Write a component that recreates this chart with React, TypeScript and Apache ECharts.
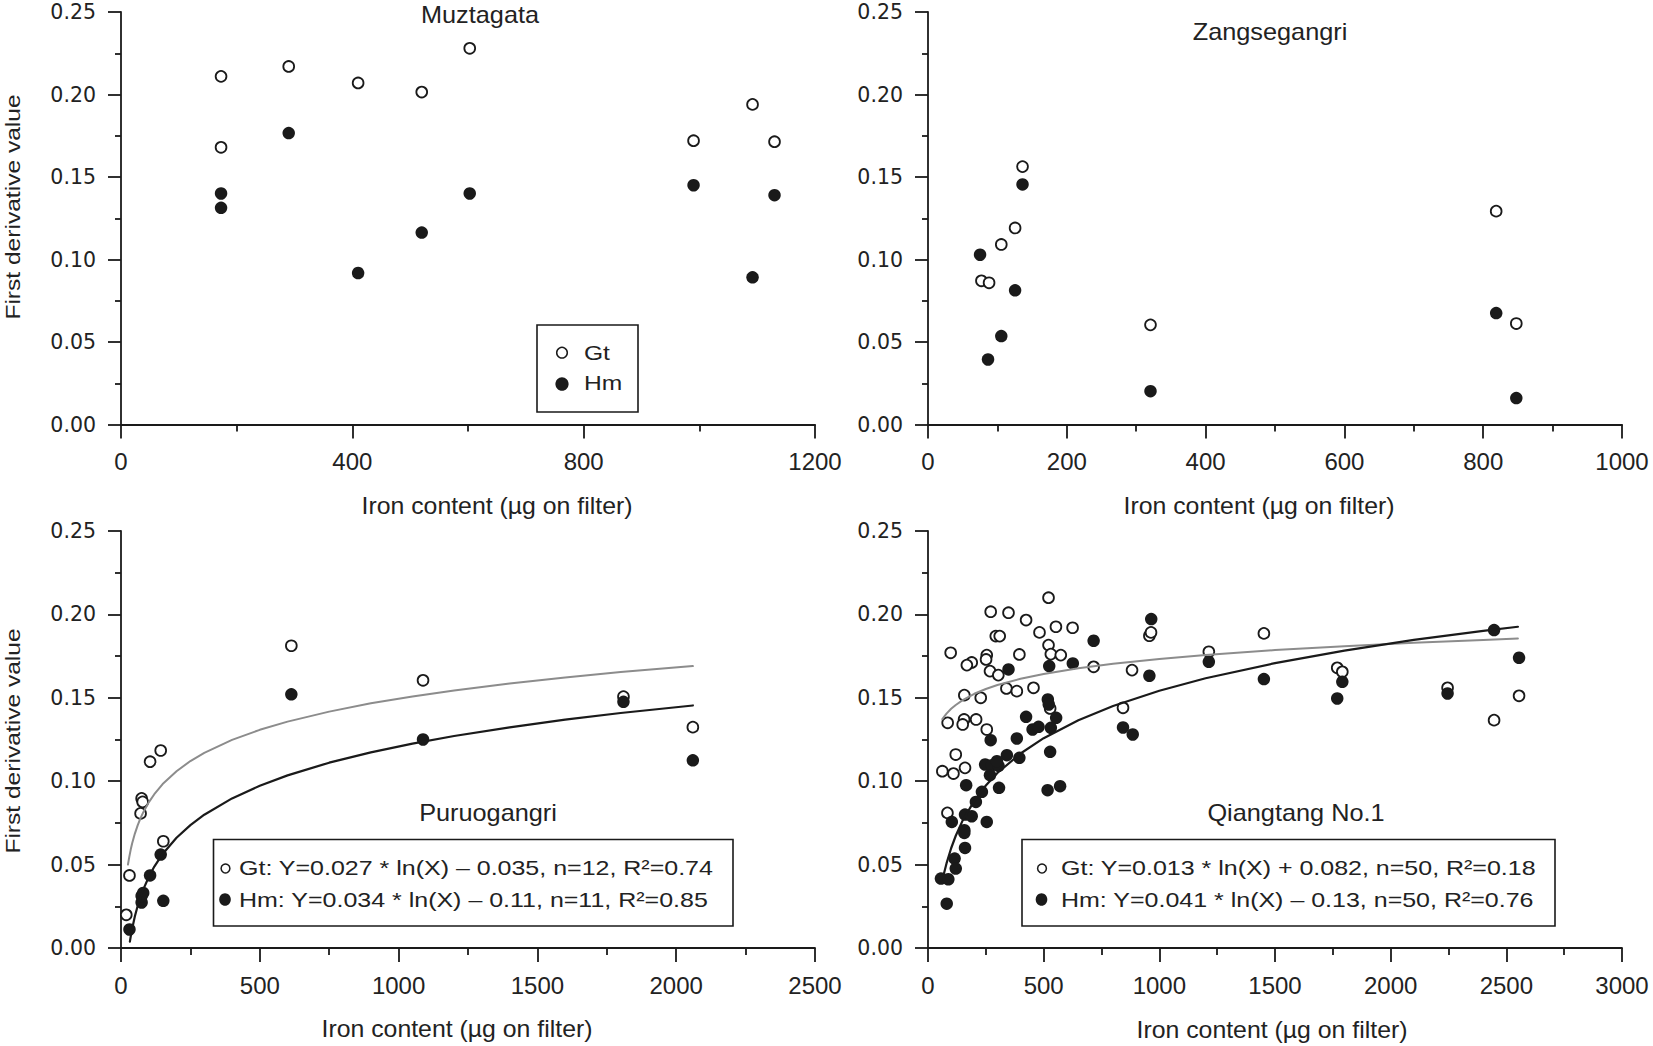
import React, { useEffect, useRef } from "react";
import * as echarts from "echarts";

const FONT = '"Liberation Sans", Arial, Helvetica, sans-serif';
const WIDE = '"DejaVu Sans", Verdana, sans-serif';
const INK = "#1a1a1a";
const GREY = "#8c8c8c";

// ---- Muztagata ----
const muzGtX = [173, 173, 290, 410, 520, 603, 990, 1092, 1130];
const muzGtY = [0.211, 0.168, 0.217, 0.207, 0.2015, 0.228, 0.172, 0.194, 0.1714];
const muzHmX = [173, 173, 290, 410, 520, 603, 990, 1092, 1130];
const muzHmY = [0.140, 0.1313, 0.1766, 0.0918, 0.1163, 0.140, 0.145, 0.0892, 0.139];

// ---- Zangsegangri ----
const zanGtX = [77, 88, 105.6, 125.5, 136.2, 320.6, 818.7, 847.7];
const zanGtY = [0.0871, 0.0859, 0.1091, 0.1191, 0.1563, 0.0604, 0.1293, 0.0612];
const zanHmX = [75, 86.5, 105.6, 125.5, 136.2, 320.6, 818.7, 847.7];
const zanHmY = [0.1029, 0.0394, 0.0536, 0.0813, 0.1455, 0.0202, 0.0675, 0.016];

// ---- Puruogangri ----
const puGtX = [19, 30.5, 70.5, 74.3, 78, 104.8, 143, 152.4, 613.6, 1088, 1810, 2060];
const puGtY = [0.0199, 0.0435, 0.0807, 0.0897, 0.0876, 0.1117, 0.1184, 0.064, 0.1812, 0.1605, 0.1507, 0.1324];
const puHmX = [30.5, 74.3, 74.3, 80, 104.8, 143, 152.4, 613.6, 1088, 1810, 2060];
const puHmY = [0.0111, 0.0273, 0.0312, 0.033, 0.0435, 0.056, 0.0283, 0.1521, 0.125, 0.1476, 0.1125];
// fitted curves
const puGtFit = [[25, 0.050], [30, 0.0548], [35, 0.059], [40, 0.0626], [50, 0.0686], [60, 0.0735], [70, 0.0777], [80, 0.0813], [100, 0.0873], [120, 0.0922], [150, 0.0983], [200, 0.106], [250, 0.1121], [300, 0.117], [400, 0.1248], [500, 0.1308], [600, 0.1357], [750, 0.1417], [900, 0.1467], [1050, 0.1508], [1200, 0.1544], [1400, 0.1586], [1600, 0.1622], [1800, 0.1654], [2060, 0.169]];
const puHmFit = [[32, 0.0038], [35, 0.0069], [40, 0.0114], [50, 0.019], [60, 0.0252], [70, 0.0304], [80, 0.035], [100, 0.0426], [120, 0.0488], [150, 0.0564], [200, 0.0661], [250, 0.0737], [300, 0.0799], [400, 0.0897], [500, 0.0973], [600, 0.1035], [750, 0.1111], [900, 0.1173], [1050, 0.1225], [1200, 0.1271], [1400, 0.1323], [1600, 0.1369], [1800, 0.1409], [2060, 0.1454]];

// ---- Qiangtang No.1 ----
const qiGtX = [521, 271, 348, 424, 553, 625, 482, 293, 310, 521, 98, 531, 574, 395, 254, 251, 189, 168, 268, 304, 716, 339, 384, 456, 157, 228, 528, 85, 156, 150, 208, 254, 120, 62, 110, 160, 84, 882, 957, 964, 843, 1214, 1452, 1769, 1791, 2246, 2447, 2555];
const qiGtY = [0.210, 0.2016, 0.201, 0.1966, 0.1926, 0.192, 0.1892, 0.187, 0.187, 0.1816, 0.177, 0.1762, 0.1756, 0.176, 0.1756, 0.173, 0.1712, 0.1696, 0.166, 0.1636, 0.1686, 0.1556, 0.154, 0.156, 0.1516, 0.150, 0.1436, 0.135, 0.137, 0.134, 0.137, 0.131, 0.116, 0.106, 0.1046, 0.108, 0.081, 0.1666, 0.1872, 0.1892, 0.144, 0.1776, 0.1886, 0.168, 0.1656, 0.156, 0.1366, 0.1512];
const qiHmX = [716, 348, 524, 626, 518, 522, 424, 554, 452, 478, 531, 384, 271, 528, 341, 395, 247, 276, 305, 298, 268, 165, 307, 517, 571, 233, 207, 160, 189, 103, 254, 157, 157, 160, 115, 120, 56, 88, 81, 965, 957, 1214, 1452, 843, 885, 2447, 2555, 1791, 1769, 2246];
const qiHmY = [0.1842, 0.167, 0.169, 0.1706, 0.149, 0.146, 0.1386, 0.138, 0.131, 0.1326, 0.132, 0.1256, 0.1246, 0.1176, 0.1156, 0.114, 0.110, 0.1096, 0.1092, 0.112, 0.1036, 0.0976, 0.096, 0.0946, 0.097, 0.0936, 0.0876, 0.080, 0.079, 0.0756, 0.0756, 0.0706, 0.069, 0.060, 0.0536, 0.0476, 0.0416, 0.0412, 0.0266, 0.1972, 0.1632, 0.1716, 0.1612, 0.1322, 0.128, 0.1906, 0.174, 0.1596, 0.1496, 0.1526];
const qiGtFit = [[62, 0.1372], [70, 0.1387], [80, 0.1405], [100, 0.1434], [120, 0.1457], [150, 0.1486], [200, 0.1524], [250, 0.1553], [300, 0.1577], [400, 0.1614], [500, 0.1643], [650, 0.1677], [800, 0.1704], [1000, 0.1733], [1200, 0.1757], [1500, 0.1786], [1800, 0.1809], [2100, 0.183], [2400, 0.1847], [2550, 0.1855]];
const qiHmFit = [[69, 0.0446], [80, 0.0507], [100, 0.0598], [120, 0.0673], [150, 0.0765], [200, 0.0882], [250, 0.0974], [300, 0.1049], [400, 0.1166], [500, 0.1258], [650, 0.1366], [800, 0.1451], [1000, 0.1542], [1200, 0.1617], [1500, 0.1708], [1800, 0.1783], [2100, 0.1847], [2400, 0.1901], [2550, 0.1926]];

// axis settings
const xMax = [1200, 1000, 2500, 3000];
const xInterval = [400, 200, 500, 500];
const panelTitles = ["Muztagata", "Zangsegangri", "Puruogangri", "Qiangtang No.1"];
const xTitle = "Iron content (µg on filter)";
const yTitle = "First derivative value";
const muzLegend = ["Gt", "Hm"];
const puLegend = ["Gt: Y=0.027 * ln(X) – 0.035, n=12, R²=0.74", "Hm: Y=0.034 * ln(X) – 0.11, n=11, R²=0.85"];
const qiLegend = ["Gt: Y=0.013 * ln(X) + 0.082, n=50, R²=0.18", "Hm: Y=0.041 * ln(X) – 0.13, n=50, R²=0.76"];

const zip = (xs: number[], ys: number[]) => xs.map((x, i) => [x, ys[i]]);

const grids = [
  { left: 121, top: 12, width: 694, height: 412.5 },
  { left: 928, top: 12, width: 694, height: 412.5 },
  { left: 121, top: 531, width: 694, height: 417 },
  { left: 928, top: 531, width: 694, height: 417 },
];

const lineSt = { color: INK, width: 1.8 };

function xAxisCfg(i: number) {
  return {
    type: "value",
    gridIndex: i,
    min: 0,
    max: xMax[i],
    interval: xInterval[i],
    axisLine: { show: true, onZero: false, lineStyle: lineSt },
    axisTick: { show: true, length: 14, lineStyle: lineSt },
    minorTick: { show: true, splitNumber: 2, length: 7, lineStyle: lineSt },
    axisLabel: {
      show: true, fontSize: 24, fontFamily: FONT, color: "#222", margin: 25,
      showMinLabel: true, showMaxLabel: true, formatter: (v: number) => String(v),
    },
    splitLine: { show: false },
    minorSplitLine: { show: false },
  };
}

function yAxisCfg(i: number) {
  return {
    type: "value",
    gridIndex: i,
    min: 0,
    max: 0.25,
    interval: 0.05,
    axisLine: { show: true, onZero: false, lineStyle: lineSt },
    axisTick: { show: true, length: 13, lineStyle: lineSt },
    minorTick: { show: true, splitNumber: 2, length: 6, lineStyle: lineSt },
    axisLabel: {
      show: true, fontSize: 20.5, fontFamily: WIDE, color: "#222", margin: 25, lineHeight: 18,
      formatter: (v: number) => v.toFixed(2), showMinLabel: true, showMaxLabel: true,
    },
    splitLine: { show: false },
    minorSplitLine: { show: false },
  };
}

const openStyle = { color: "#ffffff", borderColor: INK, borderWidth: 1.8, opacity: 1 };
const fillStyle = { color: INK, opacity: 1 };

function scatter(i: number, data: number[][], open: boolean) {
  return {
    type: "scatter",
    xAxisIndex: i,
    yAxisIndex: i,
    data,
    symbol: "circle",
    symbolSize: open ? 10.8 : 12.5,
    itemStyle: open ? openStyle : fillStyle,
    emphasis: { disabled: true },
  };
}

function fit(i: number, data: number[][], color: string, width: number) {
  return {
    type: "line",
    xAxisIndex: i,
    yAxisIndex: i,
    data,
    showSymbol: false,
    symbol: "none",
    smooth: false,
    lineStyle: { color, width, cap: "round", join: "round" },
    emphasis: { disabled: true },
  };
}

function txt(text: string, x: number, y: number, size: number, align = "center", scaleX = 1, rotation = 0) {
  return {
    type: "text",
    x,
    y,
    rotation,
    scaleX,
    silent: true,
    style: {
      text,
      fill: "#222",
      font: `${size}px ${FONT}`,
      align,
      verticalAlign: "middle",
      textAlign: align,
      textVerticalAlign: "middle",
    },
  };
}

function box(x: number, y: number, w: number, h: number) {
  return { type: "rect", silent: true, shape: { x, y, width: w, height: h }, style: { fill: "none", stroke: INK, lineWidth: 1.6 } };
}

function openDot(cx: number, cy: number, r: number) {
  return { type: "circle", silent: true, shape: { cx, cy, r }, style: { fill: "#fff", stroke: INK, lineWidth: 1.5 } };
}

function fillDot(cx: number, cy: number, rx: number, ry: number) {
  return { type: "ellipse", silent: true, shape: { cx, cy, rx, ry }, style: { fill: INK } };
}

const graphic: any[] = [
  // panel titles
  txt(panelTitles[0], 480, 15, 23, "center", 1.1),
  txt(panelTitles[1], 1270, 31.5, 23, "center", 1.1),
  txt(panelTitles[2], 488, 813, 23, "center", 1.1),
  txt(panelTitles[3], 1296, 813, 23, "center", 1.1),
  // axis titles
  txt(xTitle, 497, 506, 23, "center", 1.08),
  txt(xTitle, 1259, 506, 23, "center", 1.08),
  txt(xTitle, 457, 1029, 23, "center", 1.08),
  txt(xTitle, 1272, 1030, 23, "center", 1.08),
  txt(yTitle, 13, 207, 21, "center", 1.17, Math.PI / 2),
  txt(yTitle, 13, 741, 21, "center", 1.17, Math.PI / 2),
  // Muztagata legend
  box(537, 325, 101, 87),
  openDot(562, 352.7, 5.3),
  fillDot(562, 384, 6.6, 6.8),
  txt(muzLegend[0], 584, 353, 20.5, "left", 1.2),
  txt(muzLegend[1], 584, 383.5, 20.5, "left", 1.2),
  // Puruogangri legend
  box(213.5, 839.5, 519.5, 86.5),
  openDot(225.5, 868.5, 4.4),
  fillDot(225, 899.5, 5.8, 6.3),
  txt(puLegend[0], 239, 868, 21, "left", 1.19),
  txt(puLegend[1], 239, 899.5, 21, "left", 1.19),
  // Qiangtang legend
  box(1022, 839.5, 533, 86.5),
  openDot(1042, 868.5, 4.4),
  fillDot(1041.5, 899.5, 5.8, 6.3),
  txt(qiLegend[0], 1061, 868, 21, "left", 1.19),
  txt(qiLegend[1], 1061, 899.5, 21, "left", 1.19),
];

const option: any = {
  animation: false,
  backgroundColor: "#ffffff",
  textStyle: { fontFamily: FONT },
  grid: grids.map((g) => ({ ...g, containLabel: false, outerBoundsMode: "none" })),
  xAxis: [0, 1, 2, 3].map(xAxisCfg),
  yAxis: [0, 1, 2, 3].map(yAxisCfg),
  series: [
    scatter(0, zip(muzGtX, muzGtY), true),
    scatter(0, zip(muzHmX, muzHmY), false),
    scatter(1, zip(zanGtX, zanGtY), true),
    scatter(1, zip(zanHmX, zanHmY), false),
    fit(2, puGtFit, GREY, 2),
    fit(2, puHmFit, INK, 2.2),
    scatter(2, zip(puGtX, puGtY), true),
    scatter(2, zip(puHmX, puHmY), false),
    fit(3, qiGtFit, GREY, 2),
    fit(3, qiHmFit, INK, 2.2),
    scatter(3, zip(qiGtX, qiGtY), true),
    scatter(3, zip(qiHmX, qiHmY), false),
  ],
  graphic,
};

export default function App() {
  const ref = useRef<HTMLDivElement>(null);
  useEffect(() => {
    const chart = echarts.init(ref.current!, null, { renderer: "svg" });
    chart.setOption(option);
    return () => chart.dispose();
  }, []);
  return (
    <div
      ref={ref}
      style={{ position: "absolute", left: 0, top: 0, width: 1653, height: 1046, background: "#fff" }}
    />
  );
}
